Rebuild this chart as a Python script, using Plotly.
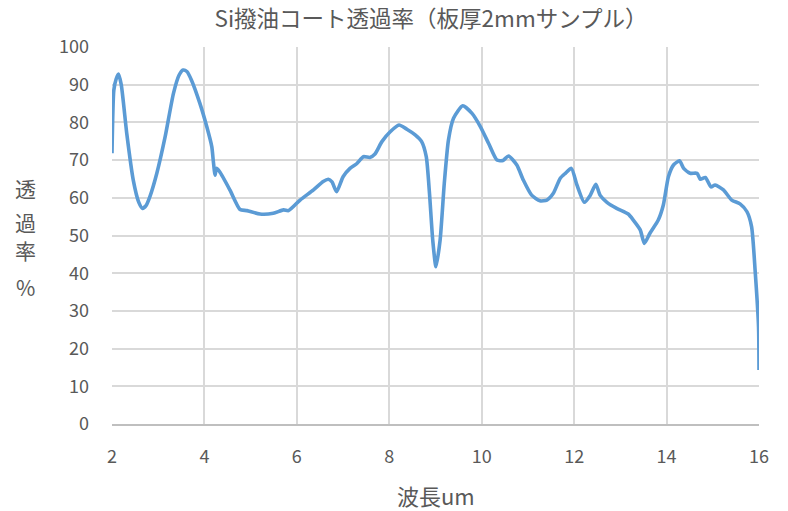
import plotly.graph_objects as go

wavelength = [2.0, 2.04, 2.09, 2.14, 2.2, 2.32, 2.46, 2.58, 2.66, 2.74, 2.82, 2.97, 3.15, 3.33, 3.45, 3.54, 3.62,
              3.72, 3.90, 4.05, 4.16, 4.19, 4.23, 4.26, 4.33, 4.55, 4.77, 4.92, 5.2, 5.49, 5.71, 5.82, 6.07,
              6.36, 6.57, 6.68, 6.76, 6.86, 7.0, 7.15, 7.30, 7.44, 7.58, 7.69, 7.84, 8.02, 8.21, 8.38, 8.56,
              8.70, 8.80, 8.87, 8.94, 9.01, 9.1, 9.19, 9.28, 9.39, 9.59, 9.79, 9.97, 10.15, 10.33, 10.46,
              10.58, 10.76, 10.90, 11.08, 11.26, 11.41, 11.55, 11.70, 11.81, 11.94, 12.06, 12.22, 12.35,
              12.47, 12.56, 12.71, 12.92, 13.17, 13.28, 13.43, 13.52, 13.64, 13.82, 13.93, 14.04, 14.15,
              14.28, 14.37, 14.51, 14.66, 14.73, 14.84, 14.96, 15.05, 15.23, 15.41, 15.59, 15.74, 15.84,
              15.92, 15.99, 16.0]
transmittance = [71.8, 88.6, 91.5, 92.8, 90.0, 77.0, 64.7, 58.8, 57.2, 58.0, 60.3, 66.5, 76.2, 87.7, 92.5, 93.9, 93.5,
                 91.2, 85.1, 78.9, 73.5, 70.0, 66.0, 67.8, 66.9, 62.1, 56.9, 56.6, 55.7, 55.9, 56.8, 56.6, 59.4,
                 62.1, 64.3, 64.9, 64.2, 61.6, 65.6, 67.8, 69.1, 70.9, 70.7, 71.6, 74.9, 77.5, 79.3, 78.2, 76.7,
                 74.9, 70.9, 61.2, 48.8, 41.7, 48.8, 63.8, 75.3, 81.1, 84.4, 82.4, 78.9, 74.4, 70.0, 69.9,
                 71.1, 68.7, 64.7, 60.7, 59.2, 59.4, 61.2, 65.2, 66.5, 67.8, 63.4, 58.8, 60.7,
                 63.6, 60.7, 58.8, 57.2, 55.7, 54.1, 51.5, 47.9, 50.6, 54.1, 58.1, 65.6, 68.7,
                 69.8, 67.8, 66.5, 66.5, 64.9, 65.4, 62.9, 63.4, 62.1, 59.4, 58.4, 56.3, 52.3,
                 40.0, 25.8, 14.3]

x_ticks = [2, 4, 6, 8, 10, 12, 14, 16]
y_ticks = [0, 10, 20, 30, 40, 50, 60, 70, 80, 90, 100]

title_text = "Si撥油コート透過率（板厚2mmサンプル）"
x_title = "波長um"
y_title_chars = ["透", "過", "率", "%"]
y_title_pos = [0.626, 0.535, 0.462, 0.363]

FONT = "Noto Sans CJK JP"
GRAY = "#595959"

fig = go.Figure()
fig.add_trace(go.Scatter(x=wavelength, y=transmittance, mode="lines",
                         line=dict(color="#5B9BD5", width=3.6, shape="spline", smoothing=0.6),
                         showlegend=False))

# full-window figure; page body margin removed below
fig.update_layout(
    width=788, height=511,
    margin=dict(l=112, r=29, t=47, b=87),
    paper_bgcolor="white", plot_bgcolor="white",
    font=dict(family=FONT, color=GRAY, size=18),
    title=dict(text=title_text, x=0.547, xanchor="center", y=0.962, yanchor="middle",
               pad=dict(t=0, b=0), font=dict(family=FONT, size=22.5, color=GRAY)),
)
fig.update_xaxes(range=[2, 16], tickvals=x_ticks, showgrid=True, gridcolor="#D9D9D9", gridwidth=1.5,
                 zeroline=False, showline=True, linecolor="#BFBFBF", linewidth=1.5,
                 ticks="", tickfont=dict(size=18, color=GRAY), ticklabelstandoff=16)
fig.update_yaxes(range=[0, 100], tickvals=y_ticks, showgrid=True, gridcolor="#D9D9D9", gridwidth=1.5,
                 zeroline=False, showline=False, ticks="", tickfont=dict(size=18, color=GRAY),
                 ticklabelstandoff=22)

fig.add_annotation(text=x_title, xref="paper", yref="paper", x=0.5, y=-0.188,
                   xanchor="center", yanchor="middle", showarrow=False,
                   font=dict(family=FONT, size=22, color=GRAY))

for ch, yp in zip(y_title_chars, y_title_pos):
    fig.add_annotation(text=ch, xref="paper", yref="paper", x=-0.134, y=yp,
                       xanchor="center", yanchor="middle", showarrow=False,
                       font=dict(family=FONT, size=21, color=GRAY))

fig.write_html("out.html", config={"displayModeBar": False},
               post_script="document.body.style.margin='0';document.body.style.overflow='hidden';")
